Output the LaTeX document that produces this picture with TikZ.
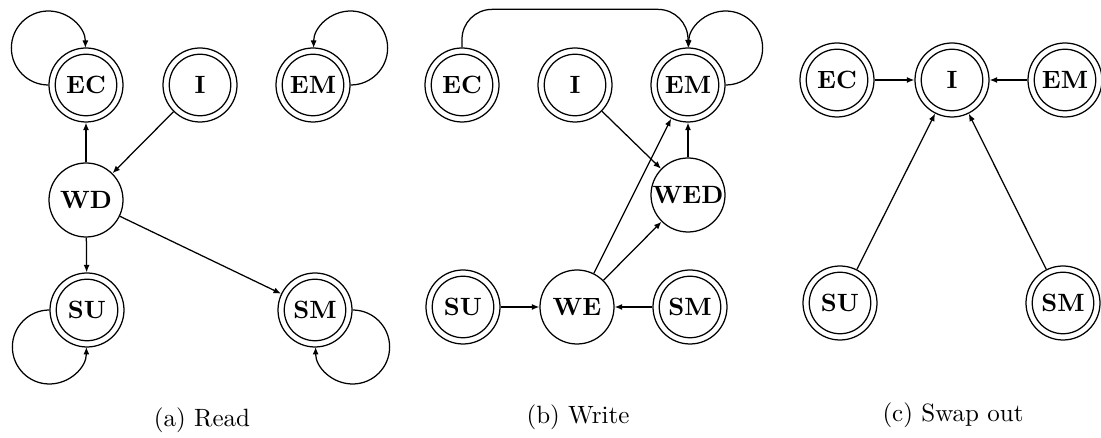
\documentclass[tikz,border=0pt]{standalone}
\usetikzlibrary{arrows.meta}
\begin{document}
\begin{tikzpicture}[x=0.4pt,y=0.4pt,
  state/.style={circle,draw,line width=0.5pt,minimum size=29.6pt,inner sep=0pt,font=\bfseries},
  final/.style={state,path picture={\draw[line width=0.5pt] (path picture bounding box.center) circle[radius=12.3pt];}},
  arr/.style={-{Latex[length=3pt,width=2.4pt]},line width=0.5pt},
  caption/.style={font=\normalsize}]
\useasboundingbox (0,0) rectangle (1101,-438);

% (a) Read
\node[final] (aEC) at (86,-85) {EC};
\node[final] (aI)  at (200,-85) {I};
\node[final] (aEM) at (313,-85) {EM};
\node[state] (aWD) at (86,-200) {WD};
\node[final] (aSU) at (87,-310) {SU};
\node[final] (aSM) at (315,-310) {SM};
\draw[arr] (aWD) -- (aEC);
\draw[arr] (aI) -- (aWD);
\draw[arr] (aWD) -- (aSU);
\draw[arr] (aWD) -- (aSM);
% self-loops: three-quarter circles from the side to the top/bottom
\draw[arr] (aEC.west) arc[start angle=270, end angle=0, radius=37];
\draw[arr] (aEM.east) arc[start angle=-90, end angle=180, radius=37];
\draw[arr] (aSU.west) arc[start angle=90, end angle=360, radius=37];
\draw[arr] (aSM.east) arc[start angle=90, end angle=-180, radius=37];
\node[caption] (capA) at (202,-420) {(a) Read};

% (b) Write
\node[final] (bEC)  at (462,-85) {EC};
\node[final] (bI)   at (575,-85) {I};
\node[final] (bEM)  at (688,-85) {EM};
\node[state] (bWED) at (688,-195) {WED};
\node[final] (bSU)  at (463,-307) {SU};
\node[state] (bWE)  at (577,-307) {WE};
\node[final] (bSM)  at (690,-307) {SM};
\draw[arr,rounded corners=12pt] (bEC.north) -- ++(0,38) -| (bEM.north);
\draw[arr] (bEM.east) arc[start angle=-90, end angle=180, radius=37];
\draw[arr] (bI) -- (bWED);
\draw[arr] (bWED) -- (bEM);
\draw[arr] (bWE) -- (bEM);
\draw[arr] (bWE) -- (bWED);
\draw[arr] (bSU) -- (bWE);
\draw[arr] (bSM) -- (bWE);
\node[caption] (capB) at (578,-417) {(b) Write};

% (c) Swap out
\node[final] (cEC) at (837,-80) {EC};
\node[final] (cI)  at (952,-80) {I};
\node[final] (cEM) at (1065,-80) {EM};
\node[final] (cSU) at (840,-303) {SU};
\node[final] (cSM) at (1063,-303) {SM};
\draw[arr] (cEC) -- (cI);
\draw[arr] (cEM) -- (cI);
\draw[arr] (cSU) -- (cI);
\draw[arr] (cSM) -- (cI);
\node[caption] (capC) at (953,-415) {(c) Swap out};
\end{tikzpicture}
\end{document}
